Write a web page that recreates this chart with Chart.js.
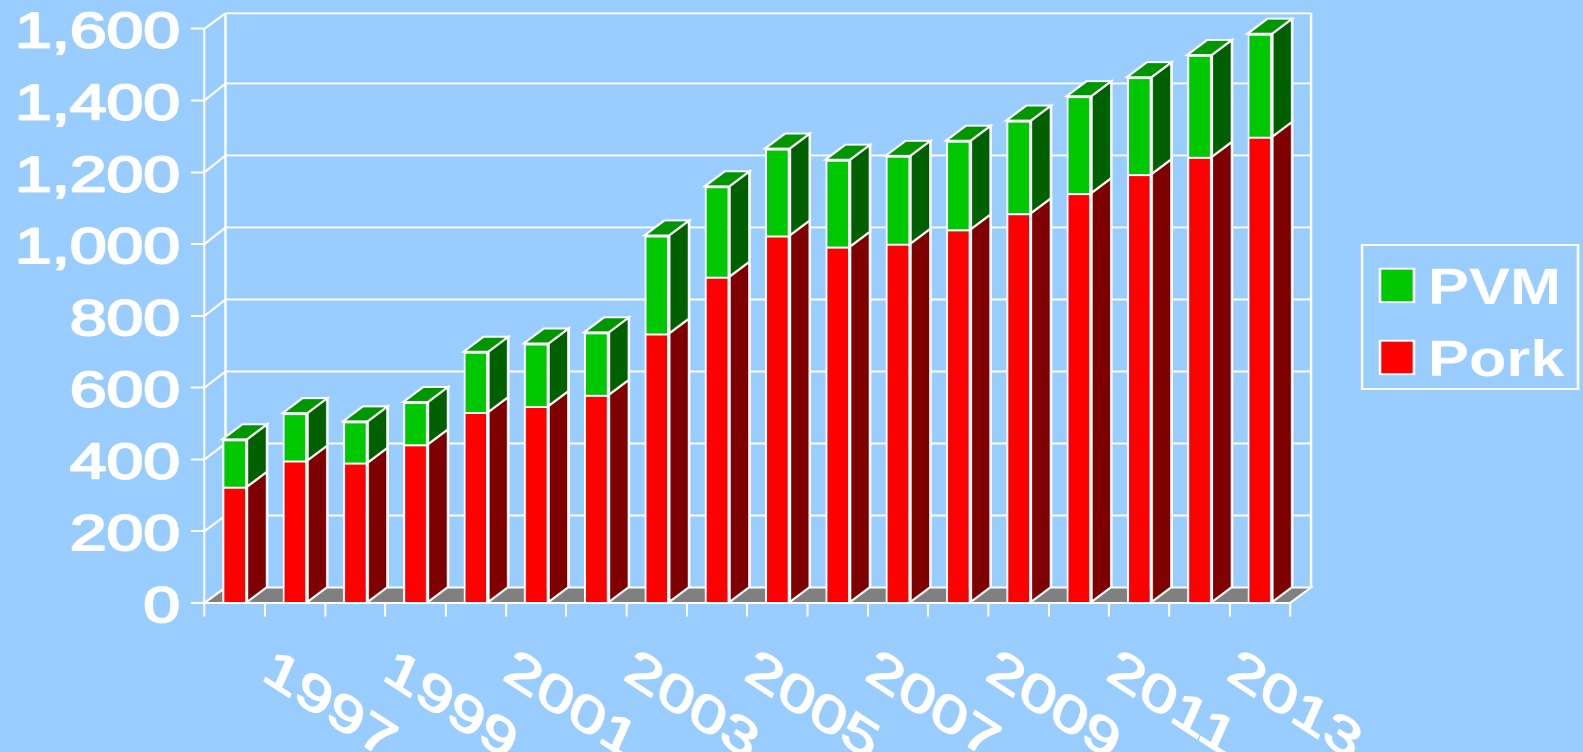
<!DOCTYPE html>
<html>
<head>
<meta charset="utf-8">
<title>Pork and PVM</title>
<script src="https://cdn.jsdelivr.net/npm/chart.js@4"></script>
<style>
html,body{margin:0;padding:0;width:1583px;height:752px;overflow:hidden;background:#99CCFF}
#wrap{position:absolute;left:0;top:0;transform-origin:0 0}
</style>
</head>
<body>
<div id="wrap"><canvas id="myChart"></canvas></div>
<script>
const years=[1996,1997,1998,1999,2000,2001,2002,2003,2004,2005,2006,2007,2008,2009,2010,2011,2012,2013];
const pork=[324,397,391,442,532,549,580,751,909,1024,993,1001,1041,1086,1142,1195,1243,1299];
const pvm=[132,132,115,118,168,174,174,273,252,242,242,245,247,258,270,270,284,287];
const seriesNames=["Pork","PVM"];

// the whole picture is wider than tall, the original looks stretched sideways
const S=1.36;
const W=1583/S, H=752;
const px=v=>v/S;

const WHITE="#FFFFFF";
const faces={
  Pork:{front:"#FF0000",side:"#7F0000",top:"#FF0000"},
  PVM:{front:"#00C800",side:"#006000",top:"#009600"}
};
const wallDx=px(21), wallDy=15.5;
const barDx=px(20), barDy=15;
const LW=1.9;

function quad(ctx,pts,fill){
  ctx.beginPath();
  ctx.moveTo(pts[0][0],pts[0][1]);
  for(let i=1;i<pts.length;i++) ctx.lineTo(pts[i][0],pts[i][1]);
  ctx.closePath();
  if(fill){ctx.fillStyle=fill;ctx.fill();}
  ctx.strokeStyle=WHITE;
  ctx.lineWidth=LW;
  ctx.stroke();
}
function line(ctx,x1,y1,x2,y2){
  ctx.beginPath();ctx.moveTo(x1,y1);ctx.lineTo(x2,y2);ctx.stroke();
}
// regular face with a thin outline comes closer to the weight of the original
function heavyText(ctx,txt,w){
  ctx.fillText(txt,0,0);
  ctx.strokeStyle=WHITE;
  ctx.lineWidth=w;
  ctx.lineJoin="round";
  ctx.strokeText(txt,0,0);
}

const box3d={
  id:"box3d",
  beforeDatasetsDraw(chart){
    const ctx=chart.ctx, a=chart.chartArea, yS=chart.scales.y;
    ctx.save();
    ctx.strokeStyle=WHITE;
    ctx.lineWidth=LW;
    // walls, the back wall lines run a touch wider than the front ticks
    const wallTop=a.top-15.4;
    yS.ticks.forEach(t=>{
      const y=yS.getPixelForValue(t.value);
      const wy=Math.max(a.bottom-wallDy-(a.bottom-y)*1.003,wallTop);
      line(ctx,a.left,y,a.left+wallDx,wy);
      if(t.value>0) line(ctx,a.left+wallDx,wy,a.right+wallDx,wy);
    });
    line(ctx,a.left+wallDx,wallTop,a.left+wallDx,a.bottom-wallDy);
    line(ctx,a.right+wallDx,wallTop,a.right+wallDx,a.bottom-wallDy);
    // floor
    quad(ctx,[[a.left,a.bottom],[a.right,a.bottom],[a.right+wallDx,a.bottom-wallDy],[a.left+wallDx,a.bottom-wallDy]],"#808080");
    // sides and tops of the bars
    chart.data.datasets.forEach((ds,d)=>{
      const f=faces[ds.label];
      chart.getDatasetMeta(d).data.forEach(b=>{
        const l=b.x-b.width/2, r=b.x+b.width/2;
        quad(ctx,[[r,b.y],[r+barDx,b.y-barDy],[r+barDx,b.base-barDy],[r,b.base]],f.side);
        if(d==chart.data.datasets.length-1)
          quad(ctx,[[l,b.y],[r,b.y],[r+barDx,b.y-barDy],[l+barDx,b.y-barDy]],f.top);
      });
    });
    ctx.restore();
  },
  afterDraw(chart){
    const ctx=chart.ctx, xS=chart.scales.x, yS=chart.scales.y;
    ctx.save();
    ctx.fillStyle=WHITE;
    // value labels sit a bit under their ticks in the original
    ctx.font="50px 'Liberation Sans'";
    ctx.textAlign="right";
    ctx.textBaseline="alphabetic";
    yS.ticks.forEach(t=>{
      ctx.save();
      ctx.translate(px(180),yS.getPixelForValue(t.value)+19);
      ctx.scale(0.97,1);
      heavyText(ctx,t.label,2);
      ctx.restore();
    });
    // year labels, only every second one has text; slanted on their own, not just rotated
    const uX=1.36*Math.cos(33*Math.PI/180), uY=1.36*Math.sin(33*Math.PI/180);
    const vX=-Math.sin(24*Math.PI/180), vY=Math.cos(24*Math.PI/180);
    ctx.font="50px 'Liberation Sans'";
    ctx.textAlign="left";
    ctx.textBaseline="top";
    xS.ticks.forEach((t,i)=>{
      if(!t.label) return;
      ctx.save();
      ctx.translate(xS.getPixelForTick(i)-px(19),643);
      ctx.transform(uX/S,uY,vX/S,vY,0,0);
      heavyText(ctx,t.label,1.6);
      ctx.restore();
    });
    // legend, top entry is the top of the stack
    ctx.strokeStyle=WHITE;
    ctx.lineWidth=LW;
    ctx.strokeRect(px(1362),245,px(216),144);
    const rows=[...chart.data.datasets].reverse();
    rows.forEach((ds,i)=>{
      const y=268.7+i*72;
      ctx.fillStyle=ds.backgroundColor;
      ctx.fillRect(px(1380),y,px(34),33.5);
      ctx.strokeRect(px(1380),y,px(34),33.5);
      ctx.save();
      ctx.fillStyle=WHITE;
      ctx.font="bold 51px 'Liberation Sans'";
      ctx.textBaseline="alphabetic";
      ctx.textAlign="left";
      ctx.translate(px(1428),y+35.5);
      ctx.scale(0.885,1);
      ctx.fillText(ds.label,0,0);
      ctx.restore();
    });
    ctx.restore();
  }
};

function main(){
  document.getElementById("wrap").style.transform="scaleX("+S+")";
  const canvas=document.getElementById("myChart");
  canvas.width=W;canvas.height=H;
  new Chart(canvas.getContext("2d"),{
    type:"bar",
    plugins:[box3d],
    data:{
      labels:years,
      datasets:[
        {label:seriesNames[0],data:pork,backgroundColor:faces.Pork.front},
        {label:seriesNames[1],data:pvm,backgroundColor:faces.PVM.front}
      ]
    },
    options:{
      responsive:false,
      devicePixelRatio:2,
      animation:false,
      layout:{padding:{left:0,right:W-px(1291.3),top:28.7,bottom:0}},
      datasets:{bar:{
        barPercentage:0.41,
        categoryPercentage:1,
        borderColor:WHITE,
        borderWidth:{left:1.5,right:1.5,top:2,bottom:2}
      }},
      plugins:{legend:{display:false},tooltip:{enabled:false},title:{display:false}},
      scales:{
        x:{
          stacked:true,
          grid:{drawOnChartArea:false,color:WHITE,tickLength:13.5,lineWidth:1.5},
          border:{color:WHITE,width:2},
          ticks:{
            display:false,
            autoSkip:false,
            callback(v,i){return i%2==1?String(years[i]):"";}
          },
          afterFit(s){s.height=H-603;s.paddingLeft=0;s.paddingRight=0;}
        },
        y:{
          stacked:true,
          min:0,max:1600,
          grid:{drawOnChartArea:false,color:WHITE,tickLength:px(13.5),lineWidth:2},
          border:{color:WHITE,width:1.5},
          ticks:{
            display:false,
            stepSize:200,
            callback:v=>v.toLocaleString("en-US")
          },
          afterFit(s){s.width=px(204.5);s.paddingTop=0;s.paddingBottom=0;}
        }
      }
    }
  });
}
main();
</script>
</body>
</html>
